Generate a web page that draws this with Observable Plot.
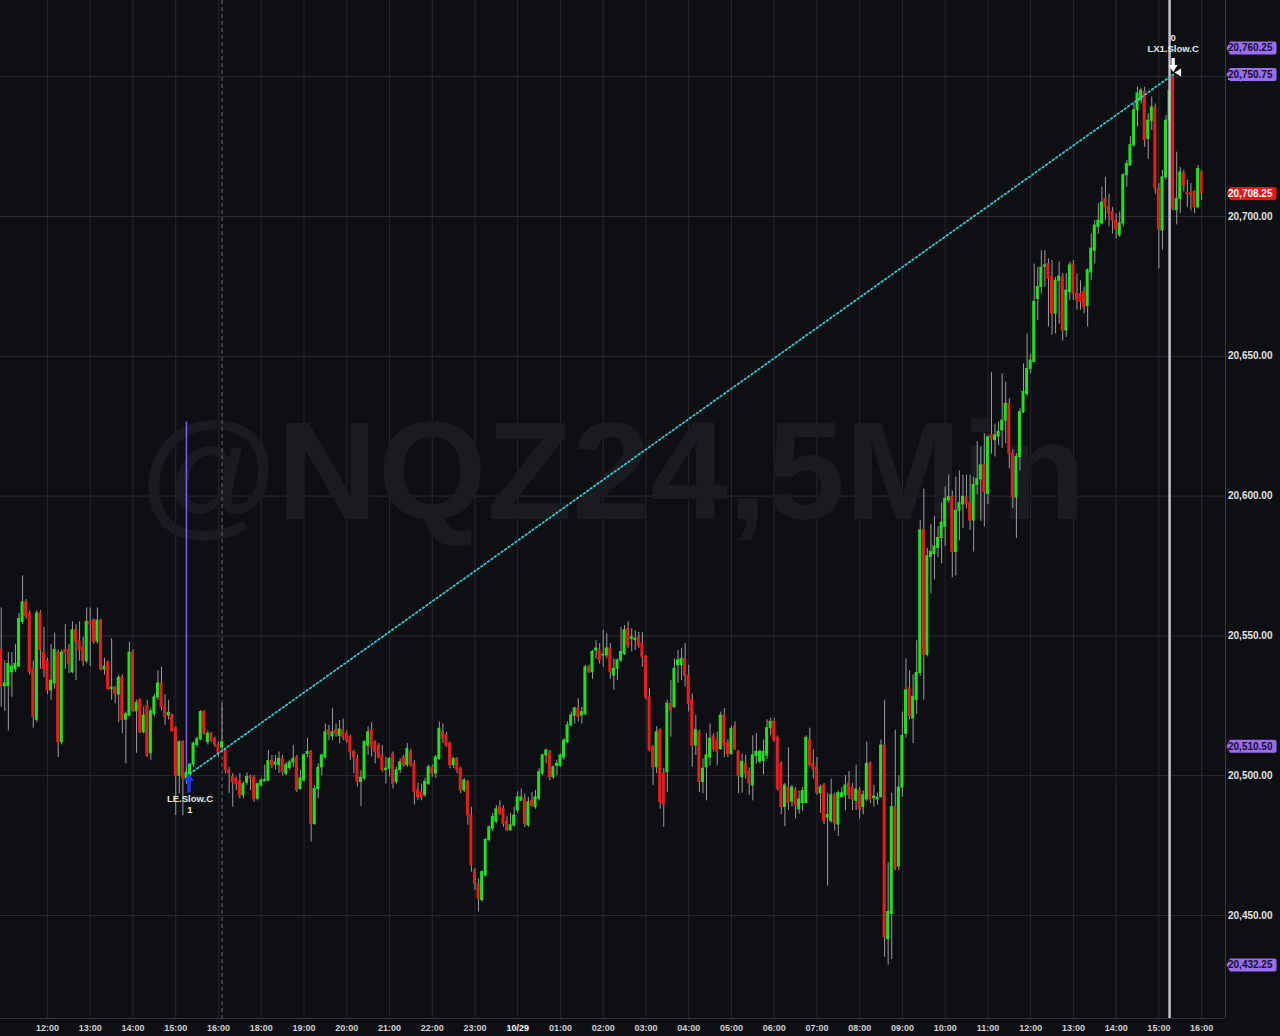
<!DOCTYPE html>
<html>
<head>
<meta charset="utf-8">
<script src="https://cdn.jsdelivr.net/npm/d3@7"></script>
<script src="https://cdn.jsdelivr.net/npm/@observablehq/plot@0.6"></script>
<style>
html,body{margin:0;padding:0;background:#0e0f12;overflow:hidden;}
#chart svg{display:block;}
</style>
</head>
<body>
<div id="chart"></div>
<script>
// ---- data: 5-minute bars of @NQZ24 (index 0 = 10/28 10:55, index 337 = 10/29 16:00) ----
const open = [
20545,20532,20532,20537,20538,20539,20555,20562,20558,20538,
20520,20558,20544,20541,20530.5,20533,20544,20512,20545,20545,
20537,20552,20548,20546,20541,20555,20555.5,20548,20555.5,20538,
20540.5,20531,20531.5,20529,20535,20520,20521.5,20544,20523,20527,
20515.5,20525,20508,20522,20528,20533,20524.5,20521.5,20521.5,20517,
20500,20512,20499,20500,20504,20511,20513,20522.75,20512,20515,
20513,20511,20510,20509,20502,20499.5,20499,20498,20493,20497.5,
20499.5,20499.25,20491.75,20496.5,20498,20498.25,20505.25,20504,20503.75,20506,
20500.75,20502.75,20504.75,20506.5,20495.25,20498.25,20507.75,20508.5,20482.75,20495.25,
20503,20506.5,20516.25,20514,20516.25,20514.25,20516.25,20515,20513.75,20508.5,
20506,20497.75,20499,20510.75,20516.25,20512,20510.75,20507.25,20502,20502.5,
20507.75,20497.75,20502,20506.5,20503.75,20508.5,20504.25,20494.75,20494,20493,
20497,20502.75,20500.75,20506,20515.5,20514.5,20511.5,20503.75,20506,20502.5,
20494.75,20497.75,20485.75,20466,20461.25,20455.5,20464.25,20477,20481,20483.5,
20488.75,20488,20483.5,20480.5,20482.25,20487.5,20491,20491.75,20482.25,20491,
20488.75,20491.75,20500.75,20507.25,20508.5,20499.5,20503.5,20503.5,20506.5,20512,
20518,20521.5,20524,20521.5,20522,20538.75,20537,20544.75,20544.75,20543,
20543,20545.5,20535.75,20538.25,20541.25,20543.5,20552.5,20549,20548.5,20549.5,
20547.25,20542.5,20528,20510.25,20503,20516.25,20500.75,20501.25,20525.75,20524.5,
20539.5,20539.5,20541.75,20535.75,20527,20510.75,20515.5,20497.75,20503,20506.5,
20514,20512.5,20509.5,20521.5,20511.5,20507.75,20517.5,20508.5,20499.5,20504.25,
20501.5,20496.5,20507,20505,20505.25,20507.25,20517,20519.25,20513.5,20504.25,
20488.75,20495.75,20490.75,20495,20488,20490.25,20490.25,20512.75,20504.25,20503,
20493.75,20496.5,20485,20483.75,20493,20482.5,20492.25,20493,20497.25,20495.75,
20491,20494.5,20488.75,20491.5,20504.25,20492,20491.5,20492.25,20510.75,20441.5,
20450.5,20488.75,20467.5,20495.75,20515,20531.25,20520.5,20527,20536.75,20587.75,
20543.25,20578.25,20579.25,20581.5,20585,20589,20598.5,20599.75,20580,20594.75,
20597,20599.5,20597.5,20591.25,20604,20606,20611,20600.75,20621.75,20620,
20621.25,20623.5,20627,20633,20615.25,20599.5,20614,20630,20636.5,20645.5,
20648,20670.5,20674.75,20682,20683,20678.25,20665.25,20677,20678.25,20659.25,
20673,20683,20672.25,20672.25,20673,20668,20680,20687.75,20696.25,20697.5,
20706.25,20703.25,20701.5,20698.5,20693.25,20697.5,20714.75,20718.25,20725.5,20738,
20741.5,20744.5,20727.75,20734.25,20739,20710,20695,20714,20734.25,20750.5,
20702.25,20706.25,20715.25,20708.5,20708.25,20708.75,20703.25,20715.75
];
const high = [
20560,20541,20544,20544,20547,20558,20571.5,20563,20559,20541,
20559,20559,20553,20542,20547,20551,20545,20545,20554,20547,
20555,20554,20555,20549.5,20560,20560,20556,20560,20556,20542,
20541,20549,20532,20536,20536,20522.75,20547.75,20545,20527,20527.5,
20524.5,20527,20524,20529,20537.5,20538.75,20529,20527,20522,20517.5,
20512.5,20512.5,20503,20504.25,20512,20513.75,20523.25,20523.25,20516,20515.5,
20513.75,20512,20525.75,20509.5,20503,20500.75,20499.5,20500.75,20497.75,20501,
20500.25,20500,20497.25,20499,20503.75,20509,20507.25,20507.25,20508.5,20507.25,
20504.75,20505.5,20510.75,20507.25,20502,20507.75,20513.25,20509,20496.5,20504.25,
20507.75,20518.5,20518,20524,20518.5,20519.75,20520.25,20516,20514.5,20509,
20507.25,20501.75,20512.5,20517.5,20519,20512.5,20511.5,20510.75,20506.5,20506.5,
20508.5,20503,20506,20507.25,20511.5,20509.5,20505.5,20497.25,20497,20499,
20503.75,20503.75,20507.25,20519.25,20518.5,20515.5,20512,20506.5,20506.5,20503,
20499,20498.25,20488.75,20466.75,20463,20466,20477.5,20482,20486.5,20489.25,
20491,20489.25,20485.25,20486.5,20488.75,20494.25,20495.25,20493.5,20492.25,20494,
20494.75,20502.5,20507.75,20509.5,20509,20503.5,20505.5,20507.75,20513.25,20519.25,
20522.75,20524.5,20527.5,20524.5,20539.5,20539.5,20544.75,20548.25,20547.25,20552,
20550.75,20547.25,20541.75,20541.75,20553,20553.75,20555,20552.5,20551.75,20551.25,
20551.25,20543,20531,20510.75,20517.5,20516.75,20502.5,20527,20534,20541.75,
20544.75,20545.5,20547.25,20539.5,20529.25,20521.5,20516.25,20506,20515,20518.5,
20515,20515.5,20522.75,20524,20512.75,20517.75,20519.25,20509,20507.75,20507.25,
20502.75,20514.25,20515,20509.25,20512.75,20520,20520.5,20520.5,20514.25,20505,
20497.25,20510,20496.5,20495.75,20494.5,20495.75,20514.25,20517,20509.25,20506.5,
20496.5,20497.25,20493.75,20498.75,20493.75,20494.5,20495.75,20500,20501.5,20497.25,
20503.75,20495.75,20494.5,20512,20505,20496.5,20493.75,20512.75,20527,20469,
20493.75,20516.25,20500,20522.75,20541.75,20537.5,20536,20548.25,20591.25,20602.5,
20581.25,20589.75,20592.75,20589,20597.5,20603.25,20607.5,20601.75,20606.75,20609,
20607.5,20607.5,20607.5,20606.75,20619.5,20617.5,20622.25,20621.5,20644.25,20625.75,
20626.5,20643.75,20640.75,20634.75,20616.5,20615.25,20631.25,20647.25,20658,20650.75,
20683,20681.75,20687.75,20687.75,20684.75,20684.25,20678.25,20683.75,20679.5,20679.5,
20683.75,20684.25,20679.5,20677,20674.75,20681.25,20693.75,20698.5,20704.5,20710.5,
20714,20708,20703.25,20701,20701.5,20715.25,20720,20728.5,20740.25,20746.25,
20745.75,20746.25,20736.75,20742.75,20740.25,20711.75,20716.5,20736,20747,20750.75,
20723,20717.5,20716.5,20713,20711.75,20709.25,20718.25,20716.5
];
const low = [
20524.5,20523,20516,20528,20537,20539,20554,20556,20536,20517,
20519,20538,20535,20529,20527,20531,20506.5,20511,20538,20536.5,
20536.5,20534,20541,20539,20540,20539,20547,20547,20537.5,20536,
20530.5,20527,20525.75,20519,20515,20504.25,20521,20522.75,20508,20515,
20515,20506.5,20505.5,20521,20527,20523.25,20518,20520,20515.5,20485.75,
20493.5,20485.75,20497,20499.5,20503,20510,20512.5,20514.5,20511,20512,
20510,20506.5,20508.5,20500.75,20493.5,20488.75,20494.75,20491.75,20491.75,20496.5,
20494.75,20490.5,20491,20496,20497.75,20497.75,20502.5,20502,20500.75,20500,
20500,20502,20503,20494,20494.75,20497.75,20506.5,20476.25,20482.25,20491.75,
20500,20506,20512.5,20512.5,20513.75,20511.5,20512.5,20511.5,20505.5,20500.75,
20496,20489,20498.25,20507.25,20506.75,20504.25,20506,20501.25,20497,20499.5,
20495.25,20497,20500.75,20503,20503,20503,20489.5,20491.25,20491,20492.25,
20496.5,20499.5,20499,20505.5,20511.5,20510,20502.5,20502.5,20500.75,20493.5,
20494,20482.25,20465.5,20459,20451.25,20454.75,20463.75,20476.25,20480,20482.75,
20485.75,20481.5,20480,20480,20481.5,20486.5,20491,20481.5,20481.5,20488.75,
20488,20491,20500,20504.25,20498.25,20498.75,20500,20503,20505.5,20511.5,
20517.5,20518.5,20519.25,20518.5,20521.5,20536.5,20534.5,20541.75,20540,20538.75,
20541.75,20534.5,20530.5,20534,20540.5,20543,20545.5,20544.25,20544.75,20545.5,
20538.75,20527,20508.5,20496.5,20500.75,20488,20481.5,20494,20513.75,20524,
20533,20534,20531.75,20522.75,20503,20507.25,20494,20493.5,20491,20503.5,
20508.5,20503.5,20509,20506.5,20506.5,20507.25,20509,20493.5,20493.75,20498.75,
20493,20491,20504.25,20504.25,20500.25,20505.75,20514.25,20512,20494.5,20486,
20481.75,20487.5,20488.75,20484.5,20486.25,20487.25,20490,20503,20498.75,20493,
20486.5,20482.5,20460.5,20483,20480.25,20478.25,20492.25,20487.5,20491.5,20487.5,
20487.5,20484.5,20486,20490.75,20490,20488.75,20489.5,20492.25,20435,20432.25,
20434.25,20466,20466,20492.25,20513.5,20520,20511.5,20522,20535.5,20527,
20542.5,20565,20570,20578,20575.75,20582,20597.5,20570.75,20571.5,20584,
20588.5,20595.5,20587.75,20580,20600.5,20591,20589,20597,20615,20614,
20618,20617,20618.75,20609.75,20595.5,20584.75,20609,20629.5,20635.5,20643.75,
20647.75,20662.75,20672.25,20674.75,20660.5,20657.5,20658,20661.5,20655.5,20656.75,
20670,20670,20666.5,20666.5,20665.25,20660.5,20677,20683,20693.75,20697,
20698.5,20696.25,20693.75,20692,20692.5,20696.25,20710.5,20718,20724.75,20732,
20740.25,20724.75,20720.5,20730.75,20708,20681.25,20688,20713,20730,20702,
20697,20701,20708.75,20703.25,20702,20701,20702.75,20705.75
];
const close = [
20532,20533,20540,20539,20540,20556,20562,20557,20537,20521,
20558,20545,20538,20530.5,20534,20545,20512,20544,20544,20540,
20552,20548,20545,20541,20555,20554,20548,20555.5,20538,20539,
20531,20531.5,20529.25,20535,20520,20522,20544,20523,20526,20515.5,
20521.5,20507,20523,20528,20533,20524.5,20521,20522.5,20516,20500,
20512,20499,20501,20504,20511.5,20513,20522.75,20515,20515,20512.5,
20511,20508,20512,20502,20500.75,20497.75,20497,20493,20497,20499.5,
20499,20491.75,20497,20498.25,20498.5,20505.25,20503.75,20504.75,20506,20501.25,
20503.75,20504.75,20506,20494.75,20499,20507.25,20508.5,20482.75,20495.25,20502.75,
20507.25,20515.5,20514.5,20515.5,20515,20516.5,20513.75,20512.5,20508.5,20506.5,
20497.75,20499.25,20512,20515.5,20510.25,20508.5,20506.5,20502,20502.5,20506,
20497,20502,20504.75,20503.75,20509.5,20503.75,20494,20492.25,20492.25,20497.75,
20503,20500.75,20506.5,20516.75,20513.25,20510.75,20503.75,20506,20502,20494.75,
20498.25,20485.75,20468,20461.25,20456,20465.5,20477,20481.5,20485.25,20488,
20486.5,20482.75,20480.5,20482.25,20485.75,20492.25,20492.25,20482.75,20490.5,20489.25,
20492.25,20501.25,20507.25,20509,20499.5,20503,20504.25,20507.25,20512.5,20518,
20521.5,20524,20521,20522.75,20538.75,20537,20544.25,20545.5,20541.25,20543.25,
20545.5,20537,20538.25,20541.25,20544.25,20552,20546.5,20549.5,20549,20546.5,
20542.5,20528,20509,20503,20515.5,20490.5,20489.75,20525.75,20523.25,20538.25,
20541.25,20541.75,20535.75,20525.75,20510.75,20516.25,20497.75,20502.5,20507.25,20513.25,
20509.5,20508.5,20521.5,20510.75,20507.75,20516.75,20509.5,20500,20505,20500.75,
20497.25,20507.25,20508.5,20508.5,20508.5,20517,20519.25,20512.75,20495.25,20488.75,
20496.5,20490.25,20495.75,20489.5,20491.5,20494.5,20513.5,20503.75,20502.25,20493.75,
20495.75,20483.75,20486,20493,20483,20493.75,20493.75,20496.5,20493,20491.5,
20495,20488,20493,20504.25,20491.5,20492.5,20492,20510.75,20442.25,20451.25,
20488.75,20466.75,20495.75,20514.25,20530.5,20521.25,20528.25,20536.75,20587.75,20543.25,
20578.5,20580,20582,20585,20590.5,20599,20599.75,20580,20594.75,20597.5,
20599.75,20597,20591.25,20604,20606,20611,20601.5,20621,20620.5,20621.75,
20623,20627,20633,20615.25,20599.5,20614,20630,20637.25,20645.5,20648.5,
20669.5,20674.75,20681.75,20682.5,20677.75,20665.25,20677,20678.5,20659.25,20673.5,
20682.5,20672.25,20670,20669.5,20667.5,20680.75,20688.5,20696.75,20698.5,20705,
20703.25,20701,20698.5,20695.5,20697.5,20714.75,20718.75,20725.5,20738,20744,
20745,20727.25,20734.25,20739,20710,20695.5,20714,20734.25,20745,20702.75,
20706.25,20715.75,20711,20708,20707.75,20703.25,20717,20708.25
];

// hour ticks (bar index) and their labels
const xTickIndex = [13,25,37,49,61,73,85,97,109,121,133,145,157,169,181,193,205,217,229,241,253,265,277,289,301,313,325,337];
const xTickLabels = ["12:00","13:00","14:00","15:00","16:00","18:00","19:00","20:00","21:00","22:00","23:00","10/29","01:00","02:00","03:00","04:00","05:00","06:00","07:00","08:00","09:00","10:00","11:00","12:00","13:00","14:00","15:00","16:00"];
const yTicks = [20450, 20500, 20550, 20600, 20650, 20700, 20750];

// price tags on the right axis
const tagPrices = [20760.25, 20750.75, 20708.25, 20510.50, 20432.25];
const tagKinds = ["level", "level", "last", "level", "level"];

// strategy trade: entry (LE.Slow.C) and exit (LX1.Slow.C)
const tradeIndex = [53, 329];
const tradePrice = [20500.75, 20750.75];
const tradeLabels = ["LE.Slow.C", "LX1.Slow.C"];
const tradeQty = ["1", "0"];
const signalBar = 52;
const signalRange = [20626.5, 20499];
const sessionBreakBar = 62;
const cursorBar = 328;
const watermark = "@NQZ24,5Min";

// ---- chart ----
const bars = open.map((o, i) => ({i, o, h: high[i], l: low[i], c: close[i]}));
const trade = tradeIndex.map((i, k) => ({i, p: tradePrice[k], label: tradeLabels[k], qty: tradeQty[k]}));
const tags = tagPrices.map((p, k) => ({p, kind: tagKinds[k]}));
const fmt = d3.format(",.2f");
const UP = "#1fe21f", DOWN = "#ea1b1b", WICK = "#9c9c9c";
const FONT = "'Liberation Sans', Arial, Helvetica, sans-serif";

const xDomain = [-0.2, 343.7];
const yDomain = [20413.16, 20777.25];

const tagSymbol = {draw(ctx) {
  ctx.moveTo(-25, 0); ctx.lineTo(-21.5, -6.5); ctx.lineTo(23, -6.5);
  ctx.quadraticCurveTo(25, -6.5, 25, -4.5); ctx.lineTo(25, 4.5);
  ctx.quadraticCurveTo(25, 6.5, 23, 6.5); ctx.lineTo(-21.5, 6.5); ctx.closePath();
}};
const upArrow = {draw(ctx) {
  ctx.moveTo(0, 0); ctx.lineTo(5, 7.5); ctx.lineTo(1.8, 7.5); ctx.lineTo(1.8, 19);
  ctx.lineTo(-1.8, 19); ctx.lineTo(-1.8, 7.5); ctx.lineTo(-5, 7.5); ctx.closePath();
}};
const downArrow = {draw(ctx) {
  ctx.moveTo(0, 0); ctx.lineTo(4.5, -7); ctx.lineTo(1.7, -7); ctx.lineTo(1.7, -14);
  ctx.lineTo(-1.7, -14); ctx.lineTo(-1.7, -7); ctx.lineTo(-4.5, -7); ctx.closePath();
}};
const leftTri = {draw(ctx) {
  ctx.moveTo(-3.5, 0); ctx.lineTo(3, -4); ctx.lineTo(3, 4); ctx.closePath();
}};

const chart = Plot.plot({
  width: 1280,
  height: 1036,
  marginLeft: 0,
  marginRight: 55,
  marginTop: 0,
  marginBottom: 18,
  style: {background: "#0e0f12", fontFamily: FONT, overflow: "visible"},
  x: {domain: xDomain, axis: null},
  y: {domain: yDomain, axis: null},
  color: {type: "identity"},
  marks: [
    Plot.ruleX(xTickIndex, {x: d => d, stroke: "#26282c", strokeWidth: 1}),
    Plot.ruleY(yTicks, {y: d => d, stroke: "#2c2e33", strokeWidth: 1}),
    Plot.text([watermark], {text: d => d, frameAnchor: "middle", lineAnchor: "bottom", dy: 9,
      fontSize: 140, fontWeight: "bold", fill: "#191b20", fontFamily: FONT}),
    Plot.ruleX([sessionBreakBar], {x: d => d, stroke: "#6a6a6a", strokeDasharray: "4,3", strokeWidth: 1}),
    Plot.ruleX([{x: signalBar, y1: signalRange[0], y2: signalRange[1]}],
      {x: "x", y1: "y1", y2: "y2", stroke: "#7e5cf2", strokeWidth: 1.5}),
    Plot.ruleX(bars, {x: "i", y1: "l", y2: "h", stroke: WICK, strokeWidth: 1}),
    Plot.rect(bars, {x1: d => d.i - 0.42, x2: d => d.i + 0.42, y1: "o", y2: "c",
      fill: d => d.c >= d.o ? UP : DOWN, insetTop: -0.5, insetBottom: -0.5}),
    Plot.ruleX([cursorBar], {x: d => d, stroke: "#c2c2ce", strokeWidth: 2.5}),
    Plot.line(trade, {x: "i", y: "p", stroke: "#34c9d0", strokeWidth: 1.8, strokeDasharray: "1.6,2.6"}),
    // entry marker
    Plot.dot(trade.slice(0, 1), {x: "i", y: "p", symbol: upArrow, fill: "#1e34ff", dx: -1}),
    Plot.text(trade.slice(0, 1), {x: "i", y: "p", text: "label", dy: 25, fill: "#e6e6e6",
      fontSize: 9.5, fontWeight: "bold", textAnchor: "middle", lineAnchor: "middle"}),
    Plot.text(trade.slice(0, 1), {x: "i", y: "p", text: "qty", dy: 36.5, fill: "#e6e6e6",
      fontSize: 9.5, fontWeight: "bold", textAnchor: "middle", lineAnchor: "middle"}),
    // exit marker
    Plot.dot(trade.slice(1), {x: "i", y: "p", symbol: downArrow, fill: "#ffffff", dy: -2.5}),
    Plot.dot(trade.slice(1), {x: "i", y: "p", symbol: leftTri, fill: "#ffffff", dx: 5, dy: -2}),
    Plot.text(trade.slice(1), {x: "i", y: "p", text: "label", dy: -26, fill: "#e6e6e6",
      fontSize: 9.5, fontWeight: "bold", textAnchor: "middle", lineAnchor: "middle"}),
    Plot.text(trade.slice(1), {x: "i", y: "p", text: "qty", dy: -37, fill: "#e6e6e6",
      fontSize: 9.5, fontWeight: "bold", textAnchor: "middle", lineAnchor: "middle"}),
    // axis borders
    Plot.ruleX([xDomain[1]], {x: d => d, stroke: "#3a3c41", strokeWidth: 1}),
    Plot.ruleY([yDomain[0]], {y: d => d, stroke: "#303236", strokeWidth: 1}),
    // y tick labels
    Plot.text(yTicks, {y: d => d, text: d => fmt(d), frameAnchor: "right", dx: 47,
      textAnchor: "end", lineAnchor: "middle", fill: "#e4e4e4", fontSize: 10, fontWeight: "bold"}),
    // price tags
    Plot.dot(tags, {y: "p", frameAnchor: "right", dx: 26, symbol: tagSymbol,
      fill: d => d.kind === "last" ? "#e81414" : "#9a6df2"}),
    Plot.text(tags, {y: "p", text: d => fmt(d.p), frameAnchor: "right", dx: 47,
      textAnchor: "end", lineAnchor: "middle", fontSize: 10, fontWeight: "bold",
      fill: d => d.kind === "last" ? "#ffffff" : "#14101e"}),
    // x tick labels
    Plot.text(xTickIndex, {x: d => d, text: (d, i) => xTickLabels[i], frameAnchor: "bottom", dy: 9.5,
      textAnchor: "middle", lineAnchor: "middle", fontSize: 9, fontWeight: "bold",
      fill: (d, i) => xTickLabels[i] === "10/29" ? "#ffffff" : "#d2d2d2"})
  ]
});
document.getElementById("chart").appendChild(chart);
</script>
</body>
</html>
